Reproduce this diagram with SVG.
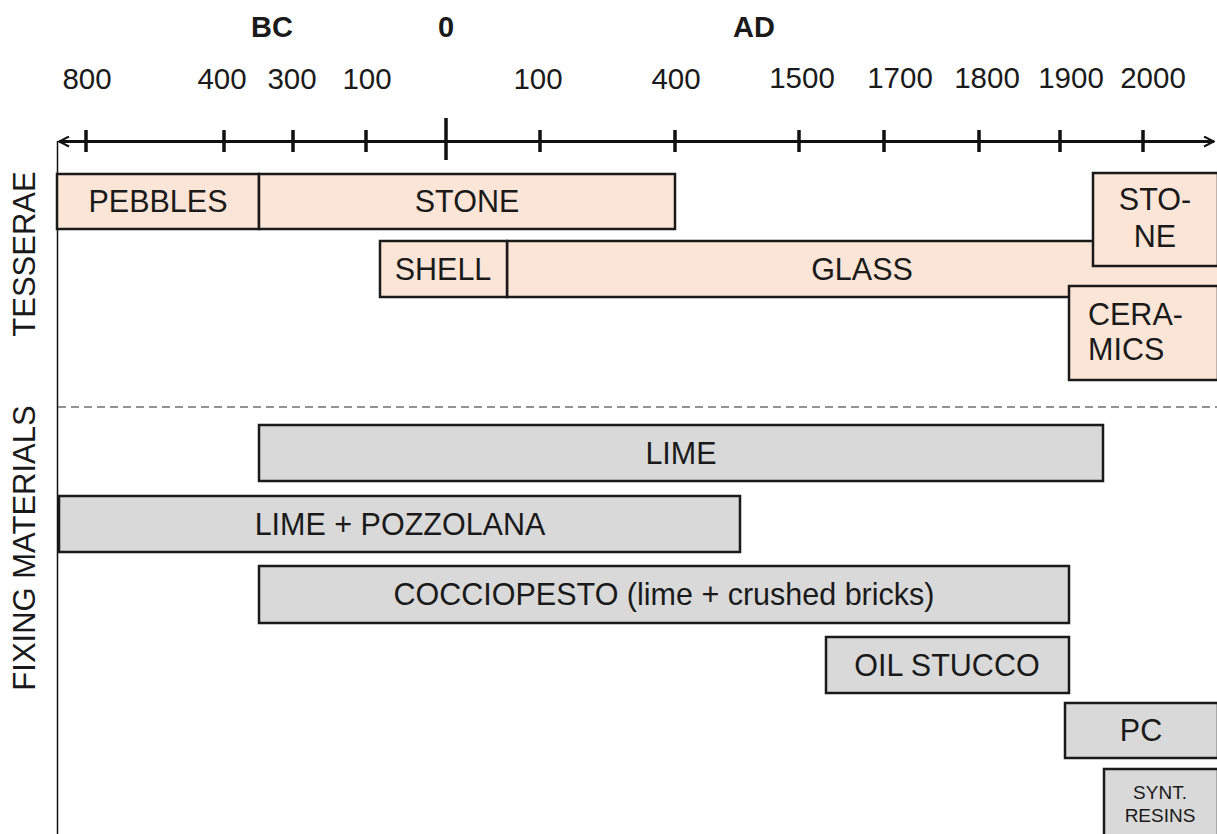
<svg xmlns="http://www.w3.org/2000/svg" width="1217" height="834" viewBox="0 0 1217 834">
<style>
text{font-family:"Liberation Sans",Arial,sans-serif;fill:#1a1a1a}
.lbl{font-size:29.5px;text-anchor:middle}
.bold{font-size:29px;font-weight:bold;text-anchor:middle}
.sec{font-size:31px;text-anchor:middle}
.t{fill:#fbe5d6;stroke:#1a1a1a;stroke-width:2.5}
.f{fill:#d9d9d9;stroke:#1a1a1a;stroke-width:2.5}
.bt{font-size:30.5px;text-anchor:middle}
.tick{stroke:#111;stroke-width:3.5}
</style>
<defs>
<marker id="arr" viewBox="0 0 12 12" refX="11" refY="6" markerWidth="12" markerHeight="12" markerUnits="userSpaceOnUse" orient="auto-start-reverse">
<path d="M1,1 L11,6 L1,11" fill="none" stroke="#111" stroke-width="2"/>
</marker>
</defs>
<rect width="1217" height="834" fill="#fff"/>
<g id="era-labels">
<text class="bold" x="272" y="37">BC</text>
<text class="bold" x="446" y="37">0</text>
<text class="bold" x="754" y="37">AD</text>
</g>
<g id="year-labels">
<text class="lbl" x="87" y="89">800</text>
<text class="lbl" x="222" y="89">400</text>
<text class="lbl" x="292" y="89">300</text>
<text class="lbl" x="367" y="89">100</text>
<text class="lbl" x="538" y="89">100</text>
<text class="lbl" x="676" y="89">400</text>
<text class="lbl" x="802" y="88">1500</text>
<text class="lbl" x="900" y="88">1700</text>
<text class="lbl" x="987" y="88">1800</text>
<text class="lbl" x="1071" y="88">1900</text>
<text class="lbl" x="1153" y="88">2000</text>
</g>
<g id="connectors">
<line x1="59" y1="141.5" x2="1214" y2="141.5" stroke="#111" stroke-width="3" marker-start="url(#arr)" marker-end="url(#arr)"/>
<line class="tick" x1="86" y1="130" x2="86" y2="152"/>
<line class="tick" x1="224" y1="130" x2="224" y2="152"/>
<line class="tick" x1="293" y1="130" x2="293" y2="152"/>
<line class="tick" x1="366" y1="130" x2="366" y2="152"/>
<line class="tick" x1="446" y1="118" x2="446" y2="160"/>
<line class="tick" x1="540" y1="130" x2="540" y2="152"/>
<line class="tick" x1="675" y1="130" x2="675" y2="152"/>
<line class="tick" x1="799" y1="130" x2="799" y2="152"/>
<line class="tick" x1="884" y1="130" x2="884" y2="152"/>
<line class="tick" x1="979" y1="130" x2="979" y2="152"/>
<line class="tick" x1="1060" y1="130" x2="1060" y2="152"/>
<line class="tick" x1="1143" y1="130" x2="1143" y2="152"/>
<line x1="57.5" y1="141" x2="57.5" y2="834" stroke="#111" stroke-width="1.5"/>
<line x1="58" y1="407" x2="1217" y2="407" stroke="#707070" stroke-width="1.5" stroke-dasharray="8,5"/>
</g>
<g id="section-labels">
<text class="sec" transform="translate(35,254) rotate(-90)">TESSERAE</text>
<text class="sec" transform="translate(35,548) rotate(-90)">FIXING MATERIALS</text>
</g>
<g id="pebbles"><rect class="t" x="57" y="174" width="202" height="55"/><text class="bt" x="158" y="212">PEBBLES</text></g>
<g id="stone"><rect class="t" x="259" y="174" width="416" height="55"/><text class="bt" x="467" y="212">STONE</text></g>
<g id="glass"><rect class="t" x="507" y="241" width="712" height="56"/><text class="bt" x="862" y="280">GLASS</text></g>
<g id="shell"><rect class="t" x="380" y="241" width="127" height="56"/><text class="bt" x="443" y="280">SHELL</text></g>
<g id="stone-modern"><rect class="t" x="1093" y="173" width="125" height="93"/><text class="bt" x="1155" y="210">STO-</text><text class="bt" x="1155" y="247">NE</text></g>
<g id="ceramics"><rect class="t" x="1069" y="286" width="149" height="94"/><text x="1088" y="325" style="font-size:30.5px">CERA-</text><text x="1088" y="360" style="font-size:30.5px">MICS</text></g>
<g id="lime"><rect class="f" x="259" y="425" width="844" height="56"/><text class="bt" x="681" y="464">LIME</text></g>
<g id="lime-pozzolana"><rect class="f" x="59" y="496" width="681" height="56"/><text class="bt" x="400" y="535">LIME + POZZOLANA</text></g>
<g id="cocciopesto"><rect class="f" x="259" y="566" width="810" height="57"/><text class="bt" x="664" y="605">COCCIOPESTO (lime + crushed bricks)</text></g>
<g id="oil-stucco"><rect class="f" x="826" y="637" width="243" height="56"/><text class="bt" x="947" y="676">OIL STUCCO</text></g>
<g id="pc"><rect class="f" x="1065" y="703" width="153" height="55"/><text class="bt" x="1141" y="741">PC</text></g>
<g id="synt-resins"><rect class="f" x="1104" y="769" width="114" height="70"/><text x="1160" y="799" style="font-size:19px;text-anchor:middle">SYNT.</text><text x="1160" y="822" style="font-size:19px;text-anchor:middle">RESINS</text></g>
</svg>
